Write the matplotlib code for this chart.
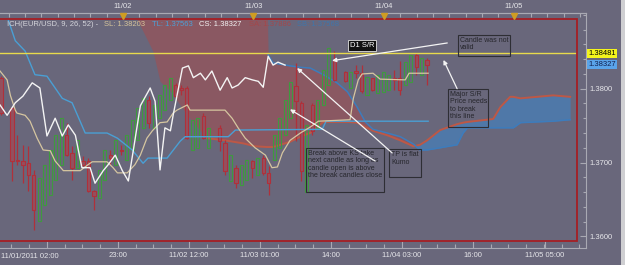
import numpy as np
import matplotlib
matplotlib.use('Agg')
import matplotlib.pyplot as plt
import matplotlib.transforms as mtransforms
from matplotlib.patches import Rectangle
from matplotlib.ticker import FixedLocator, MultipleLocator, FormatStrFormatter

plt.rcParams['font.family'] = ['Liberation Sans', 'DejaVu Sans']

# ---- data (bar index, EUR/USD price) ----
red_bar = [0, 2, 3, 4, 5, 6, 12, 13, 15, 16, 17, 20, 22, 27, 32, 33, 34, 37, 40, 41, 43, 46,
           48, 49, 54, 55, 57, 61, 63, 65, 66, 68, 72, 73, 76, 78]
red_open = [1.3815, 1.3774, 1.3703, 1.3702, 1.3699, 1.3683, 1.3737, 1.3713, 1.3702, 1.3702, 1.3661,
            1.3710, 1.3717, 1.3785, 1.3805, 1.3801, 1.3801, 1.3763, 1.3747, 1.3726, 1.3693, 1.3702,
            1.3706, 1.3686, 1.3804, 1.3781, 1.3778, 1.3838, 1.3823, 1.3824, 1.3821, 1.3814, 1.3815,
            1.3815, 1.3846, 1.3839]
red_high = [1.3817, 1.3777, 1.3737, 1.3724, 1.3722, 1.3690, 1.3754, 1.3722, 1.3709, 1.3706, 1.3663,
            1.3717, 1.3724, 1.3790, 1.3808, 1.3805, 1.3804, 1.3767, 1.3751, 1.3730, 1.3697, 1.3703,
            1.3710, 1.3695, 1.3835, 1.3783, 1.3781, 1.3851, 1.3824, 1.3832, 1.3832, 1.3815, 1.3825,
            1.3838, 1.3848, 1.3842]
red_low = [1.3764, 1.3675, 1.3697, 1.3672, 1.3661, 1.3608, 1.3709, 1.3676, 1.3695, 1.3660, 1.3636,
           1.3697, 1.3710, 1.3747, 1.3787, 1.3791, 1.3732, 1.3732, 1.3716, 1.3683, 1.3665, 1.3679,
           1.3683, 1.3656, 1.3729, 1.3675, 1.3737, 1.3810, 1.3809, 1.3815, 1.3794, 1.3797, 1.3798,
           1.3791, 1.3819, 1.3805]
red_close = [1.3767, 1.3702, 1.3702, 1.3697, 1.3683, 1.3636, 1.3710, 1.3693, 1.3697, 1.3661, 1.3655,
             1.3706, 1.3716, 1.3754, 1.3790, 1.3798, 1.3733, 1.3733, 1.3729, 1.3689, 1.3672, 1.3693,
             1.3686, 1.3672, 1.3783, 1.3689, 1.3743, 1.3812, 1.3810, 1.3821, 1.3797, 1.3798, 1.3812,
             1.3798, 1.3829, 1.3832]

green_bar = [7, 8, 9, 10, 11, 14, 18, 19, 21, 23, 24, 25, 26, 28, 29, 30, 31, 35, 36, 38, 42, 44,
             45, 47, 50, 51, 52, 53, 56, 58, 59, 60, 64, 67, 69, 70, 71, 74, 75, 77]
green_low = [1.3621, 1.3642, 1.3656, 1.3676, 1.3697, 1.3693, 1.3652, 1.3676, 1.3697, 1.3703, 1.3717,
             1.3730, 1.3747, 1.3747, 1.3760, 1.3771, 1.3785, 1.3717, 1.3720, 1.3720, 1.3675, 1.3670,
             1.3676, 1.3683, 1.3703, 1.3720, 1.3737, 1.3760, 1.3660, 1.3747, 1.3778, 1.3805, 1.3801,
             1.3791, 1.3794, 1.3796, 1.3798, 1.3805, 1.3809, 1.3819]
green_high = [1.3679, 1.3697, 1.3717, 1.3737, 1.3760, 1.3730, 1.3690, 1.3717, 1.3730, 1.3737, 1.3758,
              1.3774, 1.3787, 1.3778, 1.3791, 1.3805, 1.3814, 1.3758, 1.3760, 1.3747, 1.3710, 1.3697,
              1.3703, 1.3706, 1.3737, 1.3760, 1.3785, 1.3809, 1.3751, 1.3785, 1.3825, 1.3855, 1.3823,
              1.3816, 1.3819, 1.3823, 1.3819, 1.3836, 1.3846, 1.3842]

kijun_bar = [1.0, 2.6, 4.4, 6.2, 8.4, 11.2, 13.0, 15.4, 19.4, 21.3, 24.0, 26.0, 26.9, 30.4, 32.8,
             33.7, 41.6, 42.9, 58.8, 59.5, 78.2]
kijun = [1.3900, 1.3865, 1.3851, 1.3819, 1.3817, 1.3787, 1.3781, 1.3740, 1.3740, 1.3733, 1.3717,
         1.3699, 1.3706, 1.3706, 1.3729, 1.3735, 1.3735, 1.3744, 1.3745, 1.3756, 1.3756]

tenkan_bar = [-0.2, 1.1, 1.7, 2.6, 2.9, 4.4, 5.3, 6.6, 7.7, 9.0, 9.9, 11.4, 14.5, 15.9, 16.7, 19.4,
              20.5, 21.3, 23.1, 24.5, 25.5, 26.7, 27.7, 29.1, 30.4, 31.5, 32.2, 34.1, 34.6, 41.0,
              42.3, 43.4, 44.7, 46.5, 48.4, 49.6, 50.6, 51.5, 52.9, 54.8, 56.6, 58.1, 63.9, 64.5,
              65.4, 66.1, 68.1, 69.4, 74.0, 74.7, 78.2]
tenkan = [1.3824, 1.3812, 1.3791, 1.3771, 1.3767, 1.3764, 1.3756, 1.3733, 1.3717, 1.3716, 1.3702,
          1.3689, 1.3689, 1.3697, 1.3701, 1.3701, 1.3693, 1.3686, 1.3686, 1.3697, 1.3710, 1.3733,
          1.3743, 1.3754, 1.3755, 1.3767, 1.3771, 1.3778, 1.3771, 1.3771, 1.3760, 1.3747, 1.3733,
          1.3720, 1.3710, 1.3693, 1.3694, 1.3713, 1.3730, 1.3740, 1.3748, 1.3756, 1.3758, 1.3787,
          1.3812, 1.3820, 1.3821, 1.3813, 1.3812, 1.3821, 1.3821]

chikou_bar = [-0.2, 1.1, 2.6, 4.0, 5.7, 7.1, 8.4, 9.9, 11.2, 12.3, 13.6, 14.8, 16.3, 17.2, 18.7,
              19.6, 20.9, 22.2, 23.3, 24.2, 25.5, 27.3, 28.2, 29.1, 30.0, 31.0, 31.5, 33.2, 34.3,
              35.2, 36.5, 37.4, 38.6, 40.1, 41.4, 42.3, 43.4, 44.7, 46.0, 47.1, 48.0, 48.9, 49.8,
              50.7, 52.0]
chikou = [1.3778, 1.3764, 1.3781, 1.3790, 1.3808, 1.3801, 1.3736, 1.3760, 1.3736, 1.3751, 1.3737,
          1.3693, 1.3693, 1.3672, 1.3689, 1.3697, 1.3710, 1.3689, 1.3675, 1.3716, 1.3777, 1.3801,
          1.3783, 1.3690, 1.3747, 1.3743, 1.3764, 1.3828, 1.3831, 1.3815, 1.3821, 1.3812, 1.3824,
          1.3798, 1.3815, 1.3801, 1.3805, 1.3815, 1.3812, 1.3810, 1.3802, 1.3844, 1.3832, 1.3836,
          1.3832]

cloud_bar = [23.6, 24.9, 27.8, 29.1, 31.0, 34.1, 36.5, 37.7, 41.0, 44.3, 46.5, 48.7, 48.9, 49.8,
             52.9, 54.8, 56.6, 59.0, 61.5, 63.4, 65.2, 66.7, 68.1, 70.7, 73.1, 75.5, 76.7, 78.0,
             80.4, 83.5, 84.6, 85.4, 90.1, 91.4, 93.2, 93.8, 95.1, 101.1, 104.2]
span_a = [1.3912, 1.3894, 1.3851, 1.3810, 1.3797, 1.3764, 1.3743, 1.3733, 1.3730, 1.3726, 1.3722,
          1.3721, 1.3721, 1.3721, 1.3728, 1.3735, 1.3740, 1.3755, 1.3755, 1.3755, 1.3754, 1.3748,
          1.3743, 1.3737, 1.3730, 1.3722, 1.3724, 1.3730, 1.3744, 1.3752, 1.3754, 1.3755, 1.3759,
          1.3775, 1.3789, 1.3789, 1.3787, 1.3791, 1.3789]
span_b = [1.3920, 1.3920, 1.3920, 1.3920, 1.3920, 1.3920, 1.3920, 1.3920, 1.3920, 1.3920, 1.3920,
          1.3920, 1.3846, 1.3835, 1.3831, 1.3829, 1.3828, 1.3819, 1.3808, 1.3796, 1.3775, 1.3755,
          1.3745, 1.3740, 1.3735, 1.3725, 1.3717, 1.3717, 1.3720, 1.3724, 1.3740, 1.3747, 1.3747,
          1.3747, 1.3747, 1.3747, 1.3754, 1.3756, 1.3758]

SR_LEVEL = 1.38481
LAST_CLOSE = 1.38327

price_ticks = [1.36, 1.37, 1.38]
bottom_ticks = [8.4, 21.4, 34.4, 47.4, 60.4, 73.4, 86.4, 99.6]
bottom_labels = ['11/01/2011 02:00', '23:00', '11/02 12:00', '11/03 01:00', '14:00',
                 '11/04 03:00', '16:00', '11/05 05:00']
top_ticks = [22.3, 46.2, 70.1, 93.9]
top_labels = ['11/02', '11/03', '11/04', '11/05']

# ---- colours ----
BG = '#69677b'
AXIS = '#a9a9b3'
TXT = '#e6e6ea'
RED = '#b0303a'
GREEN = '#3f9a3f'

fig = plt.figure(figsize=(6.25, 2.65), dpi=100, facecolor=BG)
ax = fig.add_axes([0, 17 / 265, 586 / 625, 235 / 265], facecolor=BG)
ax.set_xlim(-0.2, 107.1)
ax.set_ylim(1.35842, 1.39026)

# kumo (span lines only drawn where they show as lines in the chart)
a = np.array(span_a)
b = np.array(span_b)
ax.fill_between(cloud_bar, a, b, where=b >= a, interpolate=True, color='#8a5862', lw=0, zorder=1)
ax.fill_between(cloud_bar, a, b, where=a > b, interpolate=True, color='#4f78a8', lw=0, zorder=1)
ax.plot(cloud_bar[7:], span_a[7:], color='#bd5846', lw=1.4, zorder=2)
ax.plot(cloud_bar[12:], span_b[12:], color='#3d7cbc', lw=1.1, zorder=2)

# candles
ax.vlines(red_bar, red_low, red_high, color=RED, lw=0.9, zorder=3)
ax.bar(red_bar, np.subtract(red_open, red_close), bottom=red_close, width=0.6,
       facecolor='#94505e', edgecolor=RED, lw=0.8, zorder=3)
ax.bar(green_bar, np.subtract(green_high, green_low), bottom=green_low, width=0.55,
       facecolor='none', edgecolor=GREEN, lw=0.8, zorder=3)

# ichimoku lines
ax.plot(kijun_bar, kijun, color='#4a9fd4', lw=1.0, zorder=4)
ax.plot(tenkan_bar, tenkan, color='#d6c6a0', lw=0.9, zorder=4)
ax.axhline(SR_LEVEL, color='#e8da4c', lw=1.0, zorder=4)
ax.plot(chikou_bar, chikou, color='#f4f4f4', lw=1.0, zorder=5)

# red chart frame, everything is cut to it
frame_box = (-0.01, 7 / 235)
frame_w, frame_h = 0.01 + 577 / 586, 222 / 235
clip = Rectangle(frame_box, frame_w, frame_h, transform=ax.transAxes)
for art in list(ax.lines) + list(ax.collections) + list(ax.patches):
    art.set_clip_path(clip)
ax.add_patch(Rectangle(frame_box, frame_w, frame_h, transform=ax.transAxes, fill=False,
                       edgecolor='#a51e24', lw=1.3, zorder=8, clip_on=False))

# axes / ticks
for s in ['top', 'bottom', 'right']:
    ax.spines[s].set_color(AXIS)
    ax.spines[s].set_linewidth(0.8)
ax.spines['left'].set_visible(False)
ax.yaxis.tick_right()
ax.yaxis.set_major_locator(FixedLocator(price_ticks))
ax.yaxis.set_major_formatter(FormatStrFormatter('%.4f'))
ax.yaxis.set_minor_locator(MultipleLocator(0.002))
ax.set_xticks(bottom_ticks, [''] + bottom_labels[1:])
ax.xaxis.set_minor_locator(FixedLocator(np.arange(bottom_ticks[0] - 6.5, 107, 3.25)))
ax.tick_params(which='both', direction='in', colors=AXIS, labelcolor=TXT, labelsize=5.5, width=0.8)
ax.tick_params(axis='y', which='major', length=4.3, pad=2.5)
ax.tick_params(axis='y', which='minor', length=2.2)
ax.tick_params(axis='x', which='major', length=5, pad=3)
ax.tick_params(axis='x', which='minor', length=3)
fig.text(1 / 625, 1 - 256 / 265, bottom_labels[0], ha='left', va='center', fontsize=5.5, color=TXT)

top = ax.secondary_xaxis('top')
top.set_xticks(top_ticks, top_labels)
top.xaxis.set_minor_locator(FixedLocator(np.arange(top_ticks[0] - 2.99 * 7, 107, 2.99)))
top.tick_params(which='both', direction='in', colors=AXIS, labelcolor=TXT, labelsize=5.5,
                length=3, width=0.8, pad=2.5)
top.spines['top'].set_color(AXIS)
trans_top = mtransforms.blended_transform_factory(ax.transData, ax.transAxes)
ax.plot(top_ticks, [0.989] * len(top_ticks), ls='none', marker='v', ms=4.5, color='#cf9d22',
        transform=trans_top, clip_on=False, zorder=9)

# price tags on the right
trans_r = mtransforms.blended_transform_factory(ax.transAxes, ax.transData)
ax.text(1.004, SR_LEVEL, f'{SR_LEVEL:.5f}', transform=trans_r, ha='left', va='center', fontsize=5.5,
        color='black', bbox=dict(boxstyle='square,pad=0.15', fc='#f4f41c', ec='none'))
ax.text(1.004, LAST_CLOSE, f'{LAST_CLOSE:.5f}', transform=trans_r, ha='left', va='center',
        fontsize=5.5, color='#102050', bbox=dict(boxstyle='square,pad=0.15', fc='#5aa4ea', ec='none'))

# indicator header
head = [(7, 'ICH(EUR/USD, 9, 26, 52) -', '#d4d4da'), (104, 'SL: 1.38203', '#d6c49a'),
        (152, 'TL: 1.37563', '#4d9fd6'), (199, 'CS: 1.38327', '#f2f2f2'),
        (249, 'SA: 1.37886', '#a4474a'), (297, 'SB: 1.37568', '#3f76ab')]
for hx, htxt, hcol in head:
    fig.text(hx / 625, 1 - 25 / 265, htxt, ha='left', va='center', fontsize=5.5, color=hcol)

# notes
notes = [((83.7, 1.3844, 9.5, 0.0029), 'Candle was not\nvalid'),
         ((81.9, 1.3748, 7.3, 0.0052), 'Major S/R\nPrice needs\nto break\nthis line'),
         ((55.9, 1.3660, 14.2, 0.0060), 'Break above KS take\nnext candle as long as\ncandle open is above\nthe break candles close'),
         ((71.1, 1.3680, 5.8, 0.0038), 'TP is flat\nKumo')]
for (nx, ny, nw, nh), ntxt in notes:
    ax.add_patch(Rectangle((nx, ny), nw, nh, fill=False, edgecolor='#2e2e34', lw=0.8, zorder=7))
    ax.annotate(ntxt, xy=(nx, ny + nh), xytext=(1.5, -1.5), textcoords='offset points',
                ha='left', va='top', fontsize=5, color='#26262c', linespacing=1.1, zorder=7)

arrows = [((81.7, 1.3862), (60.6, 1.3838)), ((83.5, 1.3800), (81.0, 1.3839)),
          ((68.5, 1.3702), (52.9, 1.3772)), ((71.6, 1.3713), (54.2, 1.3828))]
for tail, tip in arrows:
    ax.annotate('', xy=tip, xytext=tail,
                arrowprops=dict(arrowstyle='-|>', color='#f4f4f4', lw=0.9, mutation_scale=6,
                                shrinkA=0, shrinkB=0), zorder=7)

ax.text(66.1, 1.3859, 'D1 S/R', ha='center', va='center', fontsize=5.5, color='white', zorder=7,
        bbox=dict(boxstyle='square,pad=0.25', fc='#111111', ec='#e0e0e0', lw=0.6))

# window border on the right
fig.add_artist(Rectangle((621 / 625, 0), 4 / 625, 1, transform=fig.transFigure,
                         facecolor='#cfcfd2', edgecolor='none'))

fig.savefig('out.png', dpi=100, facecolor=BG)
